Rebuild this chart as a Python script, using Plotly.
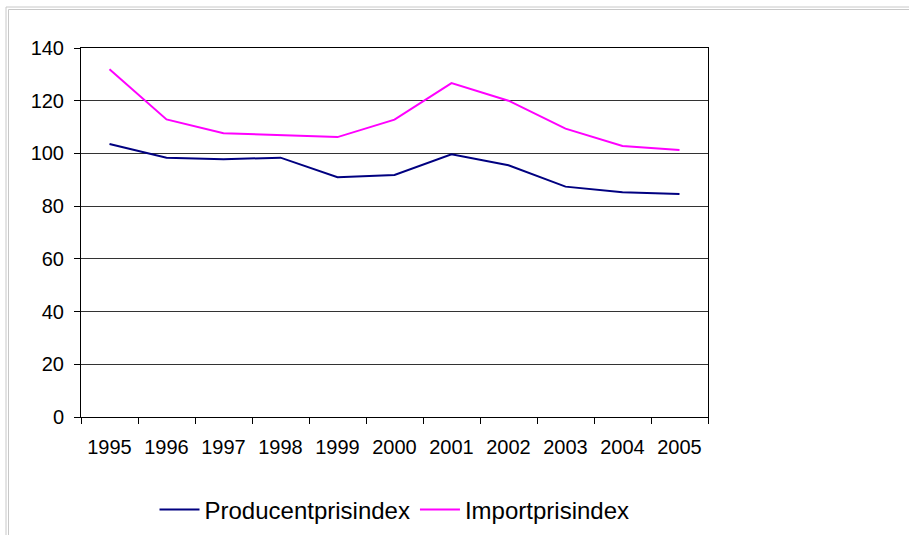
import plotly.graph_objects as go

years = ["1995", "1996", "1997", "1998", "1999", "2000", "2001", "2002", "2003", "2004", "2005"]
producent = [103.6, 98.4, 97.8, 98.4, 91.0, 91.8, 99.7, 95.5, 87.4, 85.3, 84.6]
importp = [131.9, 112.9, 107.7, 106.9, 106.2, 112.8, 126.7, 120.0, 109.4, 102.8, 101.3]
y_ticks = [0, 20, 40, 60, 80, 100, 120, 140]

FONT = "Arial, Liberation Sans, sans-serif"
L, R, T, B = 81, 708, 48, 417
W, H = 909, 535

def px_x(p):
    return (p - L) / (R - L)

def px_y(p):
    return (B - p) / (B - T)

fig = go.Figure()
fig.add_trace(go.Scatter(x=years, y=producent, mode="lines", name="Producentprisindex",
                         line=dict(color="#000080", width=2)))
fig.add_trace(go.Scatter(x=years, y=importp, mode="lines", name="Importprisindex",
                         line=dict(color="#FF00FF", width=2)))

shapes = []
for off in (0, 2.5):
    shapes.append(dict(type="rect", xref="paper", yref="paper",
                       x0=px_x(6 + off), x1=px_x(1200), y0=px_y(7 + off), y1=px_y(800),
                       line=dict(color="#c8c8c8", width=1), fillcolor="rgba(0,0,0,0)", layer="below"))

fig.update_layout(
    width=W, height=H,
    margin=dict(l=L, r=W - R, t=T, b=H - B, autoexpand=False),
    paper_bgcolor="white", plot_bgcolor="white",
    font=dict(family=FONT, size=20, color="black"),
    showlegend=True,
    legend=dict(orientation="h", x=0.5, xanchor="center", y=px_y(510), yanchor="middle",
                font=dict(family=FONT, size=24, color="black"), itemwidth=40,
                bgcolor="rgba(0,0,0,0)"),
    shapes=shapes,
    xaxis=dict(type="category", range=[-0.5, len(years) - 0.5], tickson="boundaries",
               ticks="outside", ticklen=6, automargin=False,
               tickcolor="black", showline=True, linecolor="black", linewidth=1, mirror=True,
               showgrid=False, tickfont=dict(size=20), ticklabelstandoff=12, fixedrange=True),
    yaxis=dict(range=[0, 140], tickvals=y_ticks, ticks="outside", ticklen=6, tickcolor="black",
               showline=True, linecolor="black", linewidth=1, mirror=True, automargin=False,
               showgrid=True, gridcolor="#333333", gridwidth=1, zeroline=False,
               tickfont=dict(size=20), ticklabelstandoff=6, fixedrange=True),
)

fig.write_html("out.html", config={"displayModeBar": False},
               post_script="document.body.style.margin='0';document.body.style.overflow='hidden';")
